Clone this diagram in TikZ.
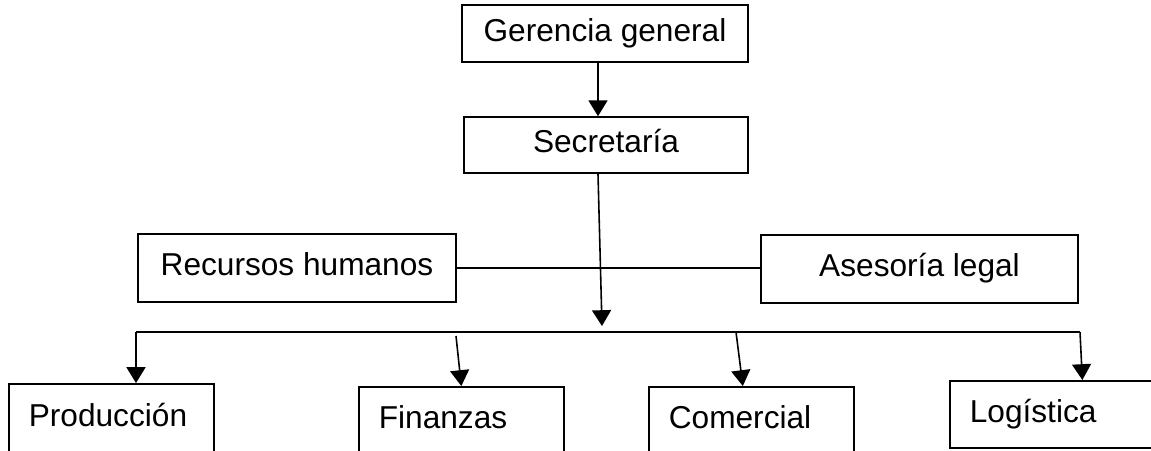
\documentclass[tikz,border=0pt]{standalone}
\usepackage{fontspec}
\setmainfont{Liberation Sans}
\usetikzlibrary{arrows.meta}
\tikzstyle{block} = [rectangle, draw, line width=0.45pt, inner sep=0pt,
                 text height=6.75pt, text depth=2.25pt,
                 font=\fontsize{9}{11}\selectfont]
\tikzstyle{dept} = [block, anchor=north west, minimum width=2.05cm,
                 minimum height=0.67cm, text width=1.65cm, align=left,
                 inner xsep=0.2cm]
\tikzstyle{branch} = [line width=0.45pt, draw]
\tikzstyle{arrow} = [branch, -{Triangle[length=4.5pt,width=5.4pt]}]

\begin{document}
\begin{tikzpicture}[x=0.01cm, y=-0.01cm]

\clip (0,0) rectangle (1151,450);

\node [block, minimum width=2.86cm, minimum height=0.57cm] at (605,33.5) (gg) {Gerencia general};
\node [block, minimum width=2.84cm, minimum height=0.56cm] at (606,145) (sec) {Secretaría};
\node [block, minimum width=3.18cm, minimum height=0.68cm] at (297,268) (rh) {Recursos humanos};
\node [block, minimum width=3.17cm, minimum height=0.68cm] at (919.5,269) (al) {Asesoría legal};

% departments
\node [dept, minimum height=0.7cm] at (8,383) (prod) {Producción};
\node [dept, minimum width=2.04cm] at (358,386) (fin) {Finanzas};
\node [dept, minimum width=2.01cm] at (648,386) (com) {Comercial};
\node [dept] at (949,380) (log) {Logística};

\coordinate (hub) at (602,326);
\coordinate (bw) at (136,332);
\coordinate (be) at (1080,332);
\coordinate (fb) at (456,336);
\coordinate (cb) at (736,332);

\path [arrow] ([xshift=-0.07cm]gg.south) -- ([xshift=-0.08cm]sec.north);
\path [arrow] ([xshift=-0.08cm]sec.south) -- (hub);
\path [branch] (rh.east) -- (rh.east -| al.west);
\path [branch] (bw) -- (be);

\path [arrow] (bw) -- (bw |- prod.north);
\path [arrow] (fb) -- (fin.north);
\path [arrow] (cb) -- ([xshift=-0.085cm]com.north);
\path [arrow] (be) -- ([xshift=0.3cm]log.north);

\end{tikzpicture}
\end{document}
